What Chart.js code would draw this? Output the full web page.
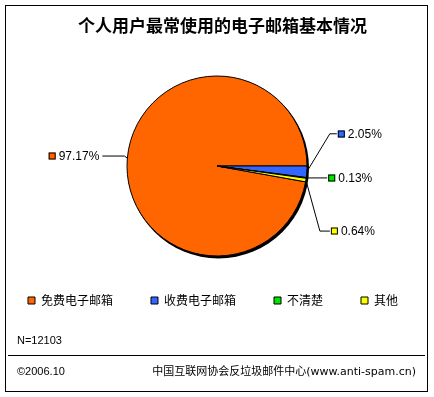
<!DOCTYPE html>
<html><head><meta charset="utf-8">
<script src="https://cdn.jsdelivr.net/npm/chart.js@4.4.0/dist/chart.umd.min.js"></script>
<style>html,body{margin:0;padding:0;background:#fff}canvas{display:block}</style>
</head><body>
<canvas id="c" width="434" height="397"></canvas>
<script>
const titleText = '个人用户最常使用的电子邮箱基本情况';
const categories = ['免费电子邮箱', '收费电子邮箱', '不清楚', '其他'];
const shares = [97.17, 2.05, 0.13, 0.64];
const valueLabels = ['97.17%', '2.05%', '0.13%', '0.64%'];
const sampleNote = 'N=12103';
const dateNote = '©2006.10';
const sourceNote = '中国互联网协会反垃圾邮件中心(www.anti-spam.cn)';

const colors = ['#FF6600', '#3366FF', '#00E400', '#FFFF00'];
const leaders = [
  {dx: -3, dy: -2, run: -22},
  {dx: 23, dy: -38, run: 7},
  {dx: 0, dy: 0, run: 21},
  {dx: 14, dy: 51, run: 10}
];
const CJK = '"Noto Sans CJK SC"';

const total = shares.reduce((a, b) => a + b, 0);
const startRotation = 90 - shares[0] / total * 360;

const shadowPlugin = {
  id: 'shadow',
  beforeDatasetsDraw(chart) {
    const arc = chart.getDatasetMeta(0).data[0];
    const ctx = chart.ctx;
    ctx.save();
    ctx.fillStyle = '#000';
    ctx.beginPath();
    ctx.arc(arc.x + 1.5, arc.y + 2, arc.outerRadius + 0.5, 0, Math.PI * 2);
    ctx.fill();
    ctx.restore();
  }
};

const labelPlugin = {
  id: 'leaderLabels',
  afterDatasetsDraw(chart) {
    const ctx = chart.ctx;
    const meta = chart.getDatasetMeta(0);
    ctx.save();
    ctx.font = '12px "Liberation Sans"';
    meta.data.forEach((arc, i) => {
      const p = arc.getProps(['x', 'y', 'startAngle', 'endAngle', 'outerRadius'], true);
      const mid = (p.startAngle + p.endAngle) / 2;
      const ax = p.x + Math.cos(mid) * p.outerRadius;
      const ay = p.y + Math.sin(mid) * p.outerRadius;
      const L = leaders[i];
      const ex = ax + L.dx, ey = ay + L.dy;
      const hx = ex + L.run;
      ctx.strokeStyle = '#000';
      ctx.lineWidth = 1;
      ctx.beginPath();
      ctx.moveTo(ax, ay);
      ctx.lineTo(ex, ey);
      ctx.lineTo(hx, ey);
      ctx.stroke();
      const tw = ctx.measureText(valueLabels[i]).width;
      let sx, tx;
      if (L.run < 0) { tx = hx - 3 - tw; sx = tx - 3 - 7; }
      else { sx = hx + 1; tx = sx + 7 + 3; }
      ctx.fillStyle = colors[i];
      ctx.fillRect(sx, Math.round(ey) - 3.5, 7, 7);
      ctx.strokeRect(sx + 0.5, Math.round(ey) - 3, 6, 6);
      ctx.fillStyle = '#000';
      ctx.textAlign = 'left';
      ctx.textBaseline = 'middle';
      ctx.fillText(valueLabels[i], tx, ey + 0.5);
    });
    ctx.restore();
  }
};

const framePlugin = {
  id: 'frame',
  afterDraw(chart) {
    const ctx = chart.ctx;
    ctx.save();
    ctx.strokeStyle = '#000';
    ctx.lineWidth = 1;
    ctx.strokeRect(5.5, 5.5, 422, 386);
    ctx.beginPath();
    ctx.moveTo(8, 355.5);
    ctx.lineTo(425, 355.5);
    ctx.stroke();
    ctx.fillStyle = '#000';
    ctx.textBaseline = 'middle';
    ctx.textAlign = 'center';
    ctx.font = 'bold 17px ' + CJK;
    ctx.fillText(titleText, 222.5, 25.5);
    ctx.textAlign = 'left';
    ctx.font = '11px "Liberation Sans"';
    ctx.fillText(sampleNote, 17, 341);
    ctx.fillText(dateNote, 17, 372);
    ctx.textAlign = 'right';
    ctx.font = '11px "DejaVu Sans", ' + CJK;
    ctx.fillText(sourceNote, 416, 372);
    ctx.restore();
  }
};

new Chart(document.getElementById('c'), {
  type: 'pie',
  data: {
    labels: categories,
    datasets: [{
      data: shares,
      backgroundColor: colors,
      borderColor: '#000',
      borderWidth: 1,
      radius: 90
    }]
  },
  options: {
    responsive: false,
    animation: false,
    rotation: startRotation,
    layout: {padding: {top: 75.5, left: -14, right: -6, bottom: 80.5}},
    plugins: {
      title: {display: false},
      legend: {
        position: 'bottom',
        labels: {
          boxWidth: 7,
          boxHeight: 7,
          padding: 38,
          color: '#000',
          font: {family: CJK, size: 12}
        }
      },
      tooltip: {enabled: false}
    }
  },
  plugins: [shadowPlugin, labelPlugin, framePlugin]
});
</script>
</body></html>
